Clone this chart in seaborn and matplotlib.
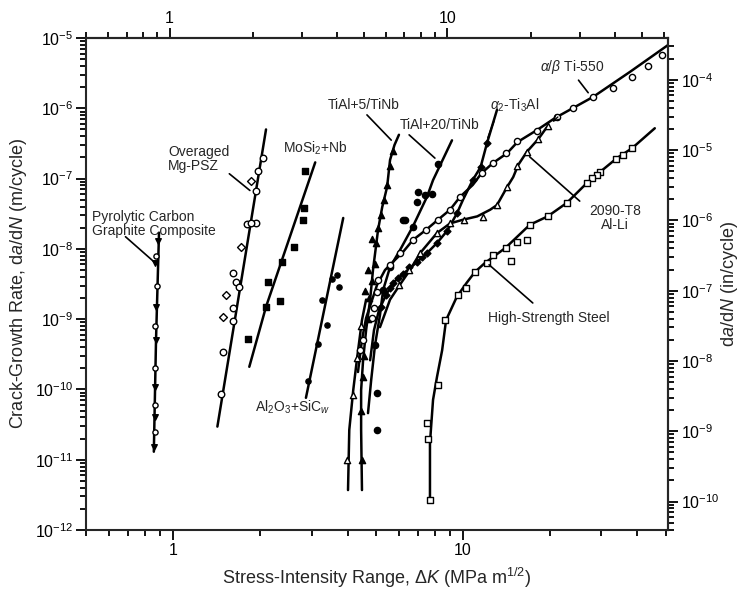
import numpy as np
import pandas as pd
import seaborn as sns
import matplotlib.pyplot as plt
from matplotlib.ticker import FixedLocator, FixedFormatter, NullFormatter, LogLocator

# ---- data (dK in MPa m^1/2, da/dN in m/cycle) ----
# Pyrolytic carbon graphite composite
pyro_line_x = [0.857, 0.872, 0.893]
pyro_line_y = [1.3e-11, 5e-10, 1.7e-8]
pyro_x = [0.885, 0.875, 0.867, 0.878, 0.870, 0.866, 0.874, 0.868, 0.864, 0.862, 0.868, 0.863, 0.860]
pyro_y = [1.3e-8, 8e-9, 6.3e-9, 3e-9, 1.5e-9, 8e-10, 5e-10, 2e-10, 1.1e-10, 6e-11, 4e-11, 2.5e-11, 1.5e-11]

# Overaged Mg-PSZ
psz_line_x = [1.42, 2.09]
psz_line_y = [2.96e-11, 5e-7]
psz_open_x = [2.04, 1.96, 1.93, 1.80, 1.93, 1.86, 1.61, 1.64, 1.68, 1.61, 1.61, 1.49, 1.46]
psz_open_y = [1.96e-7, 1.28e-7, 6.7e-8, 2.26e-8, 2.3e-8, 2.3e-8, 4.5e-9, 3.4e-9, 2.9e-9, 1.44e-9, 9.4e-10, 3.4e-10, 8.7e-11]
psz_dia_x = [1.86, 1.72, 1.52, 1.48]
psz_dia_y = [9.2e-8, 1.06e-8, 2.2e-9, 1.07e-9]

# MoSi2 + Nb
mosi_line_x = [1.83, 2.09, 3.09]
mosi_line_y = [2.1e-10, 1.5e-9, 1.7e-7]
mosi_x = [2.85, 2.83, 2.81, 2.61, 2.38, 2.13, 2.34, 2.09, 1.81]
mosi_y = [1.28e-7, 3.8e-8, 2.6e-8, 1.06e-8, 6.5e-9, 3.4e-9, 1.8e-9, 1.5e-9, 5.2e-10]

# Al2O3 + SiCw
alo_line_x = [2.87, 3.86]
alo_line_y = [7.6e-11, 2.75e-8]
alo_x = [3.74, 3.53, 3.26, 3.40, 2.92, 3.68, 3.15]
alo_y = [2.9e-9, 3.7e-9, 1.86e-9, 8.3e-10, 1.3e-10, 4.2e-9, 4.5e-10]

# TiAl+5/TiNb (two traces)
tia5_line_x = [4.48, 4.45, 4.45, 4.52, 4.63, 4.78, 4.89, 5.09, 5.26, 5.47, 5.60, 5.80, 6.01]
tia5_line_y = [3.7e-12, 2.65e-11, 9.8e-11, 2.6e-10, 7.0e-10, 1.9e-9, 5.0e-9, 1.86e-8, 3.9e-8, 7.6e-8, 1.84e-7, 3.0e-7, 4.2e-7]
tia5_x = [4.47, 4.46, 4.50, 4.55, 4.70, 4.75, 4.60, 4.85, 4.70, 4.95, 5.00, 4.85, 5.10, 5.20, 5.35, 5.45, 5.60, 5.75]
tia5_y = [1.0e-11, 5e-11, 1.5e-10, 3e-10, 1.0e-9, 2e-9, 2.5e-9, 3.5e-9, 5e-9, 6e-9, 1.2e-8, 1.4e-8, 2.0e-8, 3.0e-8, 5e-8, 8e-8, 1.5e-7, 2.5e-7]
tia5b_line_x = [4.01, 4.05, 4.18, 4.31, 4.48, 4.63]
tia5b_line_y = [3.7e-12, 2.65e-11, 9.8e-11, 2.8e-10, 9.7e-10, 1.9e-9]
tia5b_x = [3.98, 4.17, 4.31, 4.45]
tia5b_y = [1.0e-11, 8.2e-11, 2.8e-10, 8e-10]

# TiAl+20/TiNb
tia20_line_x = [4.70, 4.82, 4.97, 5.17, 5.30, 5.60, 6.06, 6.72, 7.51, 7.88, 9.16]
tia20_line_y = [4.6e-11, 1.36e-10, 4.3e-10, 1.15e-9, 2.6e-9, 5.5e-9, 9.6e-9, 2.1e-8, 5.5e-8, 9.5e-8, 3.5e-7]
tia20_x = [7.0, 7.39, 7.82, 6.94, 6.21, 6.72, 8.2, 5.05, 5.05, 5.6, 5.3, 4.97, 6.31]
tia20_y = [6.4e-8, 5.8e-8, 6.1e-8, 4.7e-8, 2.6e-8, 2.05e-8, 1.6e-7, 8.9e-11, 2.65e-11, 5.5e-9, 2.6e-9, 4.3e-10, 2.6e-8]

# alpha2-Ti3Al
ti3al_line_x = [4.78, 4.93, 5.13, 5.42, 5.74, 6.21, 6.94, 7.51, 8.13, 8.81, 9.53, 10.0, 10.8, 11.5, 12.1, 13.1]
ti3al_line_y = [2.6e-10, 7.0e-10, 1.35e-9, 2.2e-9, 3.3e-9, 4.4e-9, 6.5e-9, 8.7e-9, 1.21e-8, 1.8e-8, 3.2e-8, 5.0e-8, 9.5e-8, 1.46e-7, 3.2e-7, 9.5e-7]
ti3al_x = [5.2, 5.42, 5.6, 5.74, 5.95, 6.21, 6.5, 6.94, 7.2, 7.51, 8.13, 8.81, 9.53, 10.8, 11.5, 12.1]
ti3al_y = [1.5e-9, 2.2e-9, 2.8e-9, 3.3e-9, 3.8e-9, 4.4e-9, 5.5e-9, 6.5e-9, 7.7e-9, 8.7e-9, 1.21e-8, 1.8e-8, 3.2e-8, 9.5e-8, 1.46e-7, 3.2e-7]

# 2090-T8 Al-Li
alli_line_x = [5.17, 5.60, 6.06, 6.56, 7.11, 8.13, 9.02, 10.0, 11.2, 12.4, 13.1, 14.2, 14.9, 15.5, 16.6, 18.2, 19.6]
alli_line_y = [7.7e-10, 1.9e-9, 3.1e-9, 5.0e-9, 8.7e-9, 1.68e-8, 2.3e-8, 2.6e-8, 2.9e-8, 3.6e-8, 4.2e-8, 7.6e-8, 1.05e-7, 1.56e-7, 2.4e-7, 3.66e-7, 5.6e-7]
alli_x = [19.6, 18.2, 16.6, 15.3, 14.2, 13.1, 11.7, 10.1, 9.0, 8.1, 7.1, 6.5, 6.0]
alli_y = [5.6e-7, 3.66e-7, 2.4e-7, 1.5e-7, 7.6e-8, 4.2e-8, 2.8e-8, 2.6e-8, 2.3e-8, 1.7e-8, 8.7e-9, 5e-9, 3.1e-9]

# alpha/beta Ti-550
ti550_line_x = [4.34, 4.48, 4.63, 4.86, 5.05, 5.38, 5.83, 6.16, 6.72, 7.45, 8.20, 9.02, 9.77, 10.8, 11.6, 12.7, 14.2, 15.4, 18.0, 20.8, 28.1, 37.7, 50.9]
ti550_line_y = [1.77e-10, 5.1e-10, 1.04e-9, 1.9e-9, 3.07e-9, 5.0e-9, 7.0e-9, 8.7e-9, 1.34e-8, 1.86e-8, 2.6e-8, 3.6e-8, 5.5e-8, 8.1e-8, 1.2e-7, 1.67e-7, 2.3e-7, 3.3e-7, 4.9e-7, 7.3e-7, 1.45e-6, 3.3e-6, 7.9e-6]
ti550_x = [48.5, 43.4, 38.3, 32.9, 28.1, 23.9, 21.1, 18.0, 15.4, 14.1, 12.7, 11.6, 9.77, 9.02, 8.2, 7.45, 6.72, 6.06, 5.6, 5.09, 5.05, 4.93, 4.86, 4.52, 4.41]
ti550_y = [5.7e-6, 4.0e-6, 2.8e-6, 1.95e-6, 1.45e-6, 1.0e-6, 7.5e-7, 4.75e-7, 3.4e-7, 2.3e-7, 1.67e-7, 1.2e-7, 5.5e-8, 3.6e-8, 2.6e-8, 1.86e-8, 1.34e-8, 8.7e-9, 5.9e-9, 3.6e-9, 2.4e-9, 1.44e-9, 1.04e-9, 5.1e-10, 3.6e-10]

# High-strength steel
steel_line_x = [7.69, 7.69, 7.88, 8.13, 8.47, 8.74, 9.53, 10.3, 11.0, 11.9, 14.0, 17.0, 19.6, 22.8, 26.8, 29.7, 34.0, 38.3, 45.9]
steel_line_y = [2.7e-12, 1.73e-11, 7.1e-11, 1.5e-10, 3.6e-10, 9.7e-10, 2.1e-9, 3.3e-9, 4.7e-9, 6.3e-9, 1.03e-8, 2.2e-8, 2.9e-8, 4.5e-8, 8.7e-8, 1.24e-7, 1.96e-7, 2.7e-7, 5.2e-7]
steel_x = [38.3, 35.6, 33.7, 29.7, 29.0, 27.9, 26.8, 22.8, 19.6, 17.0, 15.4, 14.1, 12.7, 12.1, 16.6, 14.6, 11.0, 10.2, 9.6, 8.67, 8.2, 7.51, 7.57, 7.69]
steel_y = [2.7e-7, 2.17e-7, 1.9e-7, 1.24e-7, 1.12e-7, 1.02e-7, 8.7e-8, 4.5e-8, 2.9e-8, 2.2e-8, 1.25e-8, 1.03e-8, 8.2e-9, 6.3e-9, 1.34e-8, 6.7e-9, 4.7e-9, 2.8e-9, 2.2e-9, 9.7e-10, 1.16e-10, 3.3e-11, 2.0e-11, 2.7e-12]

# axis ticks
left_ticks = [1e-12, 1e-11, 1e-10, 1e-9, 1e-8, 1e-7, 1e-6, 1e-5]
right_ticks = [1e-10, 1e-9, 1e-8, 1e-7, 1e-6, 1e-5, 1e-4]

# ---- style ----
sns.set_style('ticks')
plt.rcParams['font.family'] = ['Liberation Sans', 'DejaVu Sans']
plt.rcParams['mathtext.fontset'] = 'custom'
plt.rcParams['mathtext.rm'] = 'Liberation Sans'
plt.rcParams['mathtext.it'] = 'Liberation Sans:italic'
plt.rcParams['mathtext.bf'] = 'Liberation Sans:bold'

fig = plt.figure(figsize=(7.39, 5.91), dpi=100)
ax = fig.add_axes([0.1164, 0.1032, 0.7876, 0.8325])
ax.set_xscale('log')
ax.set_yscale('log')

lw = 1.8
def curve(xs, ys):
    sns.lineplot(x=xs, y=ys, sort=False, estimator=None, color='black', linewidth=lw, ax=ax)

def pts(xs, ys, marker, filled, size=22):
    sns.scatterplot(x=xs, y=ys, marker=marker, s=size, ax=ax, zorder=3,
                    facecolor='black' if filled else 'white', edgecolor='black', linewidth=1.0)

curve(pyro_line_x, pyro_line_y)
pts(pyro_x[::2], pyro_y[::2], 'v', True, 16)
pts(pyro_x[1::2], pyro_y[1::2], 'o', False, 14)

curve(psz_line_x, psz_line_y)
pts(psz_open_x, psz_open_y, 'o', False)
pts(psz_dia_x, psz_dia_y, 'D', False, 16)

curve(mosi_line_x, mosi_line_y)
pts(mosi_x, mosi_y, 's', True, 18)

curve(alo_line_x, alo_line_y)
pts(alo_x, alo_y, 'o', True, 14)

curve(tia5_line_x, tia5_line_y)
pts(tia5_x, tia5_y, '^', True, 20)
curve(tia5b_line_x, tia5b_line_y)
pts(tia5b_x, tia5b_y, '^', False, 20)

curve(tia20_line_x, tia20_line_y)
pts(tia20_x, tia20_y, 'o', True, 20)

curve(ti3al_line_x, ti3al_line_y)
pts(ti3al_x, ti3al_y, 'D', True, 12)

curve(alli_line_x, alli_line_y)
pts(alli_x, alli_y, '^', False, 20)

curve(ti550_line_x, ti550_line_y)
pts(ti550_x, ti550_y, 'o', False, 20)

curve(steel_line_x, steel_line_y)
pts(steel_x, steel_y, 's', False, 20)

ax.set_xlim(0.5, 51)
ax.set_ylim(1e-12, 1e-5)

# ---- labels with leader lines ----
fs = 10
def label(txt, xy, ha='left', va='center', arrow=None):
    ax.text(xy[0], xy[1], txt, fontsize=fs, ha=ha, va=va, linespacing=1.0)
    if arrow is not None:
        ax.annotate('', xy=arrow[1], xytext=arrow[0],
                    arrowprops=dict(arrowstyle='-', color='black', lw=1.2))

label('Pyrolytic Carbon\nGraphite Composite', (0.526, 2.26e-8),
      arrow=((0.673, 1.58e-8), (0.867, 6.3e-9)))
label('Overaged\nMg-PSZ', (0.96, 1.9e-7), arrow=((1.535, 1.24e-7), (1.87, 6.4e-8)))
label('MoSi$_2$+Nb', (2.39, 2.7e-7))
label('Al$_2$O$_3$+SiC$_w$', (1.92, 5.5e-11))
label('TiAl+5/TiNb', (3.42, 1.11e-6), arrow=((4.59, 8.6e-7), (5.74, 3.3e-7)))
label('TiAl+20/TiNb', (6.06, 5.8e-7), arrow=((6.41, 4.45e-7), (8.13, 1.84e-7)))
label(r'$\alpha_2$-Ti$_3$Al', (12.4, 1.11e-6), arrow=((12.9, 7.3e-7), (12.1, 3.5e-7)))
label(r'$\alpha/\beta$ Ti-550', (18.4, 3.86e-6), arrow=((24.7, 2.7e-6), (27.4, 1.55e-6)))
ax.annotate('', xy=(20.0, 6.0e-7), xytext=(21.6, 8.0e-7),
            arrowprops=dict(arrowstyle='->', color='black', lw=1.0))
label('2090-T8\nAl-Li', (33.4, 2.75e-8), ha='center', arrow=((16.7, 2.17e-7), (25.7, 4.5e-8)))
label('High-Strength Steel', (12.2, 1.04e-9), arrow=((12.1, 6.3e-9), (17.7, 1.6e-9)))

# ---- axes, ticks ----
for s in ax.spines.values():
    s.set_linewidth(1.5)
tick_kw = dict(direction='out', colors='black', width=1.3)
ax.tick_params(which='major', length=7, labelsize=11.5, pad=2, **tick_kw)
ax.tick_params(which='minor', length=4, **tick_kw)
ax.xaxis.set_major_locator(FixedLocator([1, 10]))
ax.xaxis.set_major_formatter(FixedFormatter(['1', '10']))
ax.xaxis.set_minor_locator(FixedLocator([0.5, 0.6, 0.7, 0.8, 0.9, 2, 3, 4, 5, 6, 7, 8, 9, 20, 30, 40, 50]))
ax.xaxis.set_minor_formatter(NullFormatter())
ax.yaxis.set_major_locator(FixedLocator(left_ticks))
ax.yaxis.set_minor_locator(LogLocator(base=10, subs=np.arange(2, 10), numticks=20))
ax.yaxis.set_minor_formatter(NullFormatter())

k = 290.0 / 278.0
top = ax.secondary_xaxis('top', functions=(lambda x: 0.5 * (np.clip(x, 1e-12, None) / 0.5) ** k,
                                           lambda t: 0.5 * (np.clip(t, 1e-12, None) / 0.5) ** (1 / k)))
top.xaxis.set_major_locator(FixedLocator([1, 10]))
top.xaxis.set_major_formatter(FixedFormatter(['1', '10']))
top.xaxis.set_minor_locator(FixedLocator([0.5, 0.6, 0.7, 0.8, 0.9, 2, 3, 4, 5, 6, 7, 8, 9, 20, 30, 40, 50, 60]))
top.xaxis.set_minor_formatter(NullFormatter())
top.tick_params(which='major', length=7, labelsize=11.5, pad=2, **tick_kw)
top.tick_params(which='minor', length=4, **tick_kw)
top.spines['top'].set_linewidth(1.5)

right = ax.secondary_yaxis('right', functions=(lambda y: y * 39.37, lambda y: y / 39.37))
right.yaxis.set_major_locator(FixedLocator(right_ticks))
right.yaxis.set_minor_locator(LogLocator(base=10, subs=np.arange(2, 10), numticks=20))
right.yaxis.set_minor_formatter(NullFormatter())
right.tick_params(which='major', length=7, labelsize=11.5, pad=2, **tick_kw)
right.tick_params(which='minor', length=4, **tick_kw)
right.spines['right'].set_linewidth(1.5)
right.set_ylabel('d$a$/d$N$ (in/cycle)', fontsize=13, labelpad=0)

ax.set_xlabel(r'Stress-Intensity Range, $\Delta K$ (MPa m$^{1/2}$)', fontsize=13, labelpad=6)
ax.set_ylabel('Crack-Growth Rate, d$a$/d$N$ (m/cycle)', fontsize=13, labelpad=4)

fig.savefig('out.png', dpi=100)
